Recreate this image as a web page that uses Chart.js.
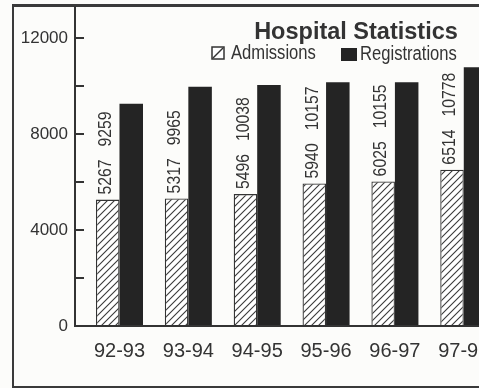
<!DOCTYPE html>
<html>
<head>
<meta charset="utf-8">
<script src="https://cdn.jsdelivr.net/npm/chart.js@4.4.0/dist/chart.umd.min.js"></script>
<style>
  html, body { margin: 0; padding: 0; background: #fcfcfa; overflow: hidden; width: 479px; height: 388px; }
  #frame { position: absolute; left: 12px; top: 4px; width: 620px; height: 384px; box-sizing: border-box;
           border: 2px solid #3a3a3a; border-top-width: 3px; }
  #wrap { position: absolute; left: 0; top: 0; width: 560px; height: 388px; }
</style>
</head>
<body>
<div id="frame"></div>
<div id="wrap"><canvas id="c" width="560" height="388"></canvas></div>
<script>
// Hospital statistics, yearly figures
const categories = ['92-93', '93-94', '94-95', '95-96', '96-97', '97-98'];
const admissions = [5267, 5317, 5496, 5940, 6025, 6514];
const registrations = [9259, 9965, 10038, 10157, 10155, 10778];
const yTicks = [0, 2000, 4000, 6000, 8000, 10000, 12000];
const yTickLabels = [0, 4000, 8000, 12000];

const INK = '#333333';
const BAR_DARK = '#242424';
const FONT = '"Liberation Sans", Arial, sans-serif';
const SQUEEZE = 0.83; // narrow lettering for labels and key

// diagonal hatching for the admissions bars
function makeHatch() {
  const s = 7;
  const p = document.createElement('canvas');
  p.width = s; p.height = s;
  const g = p.getContext('2d');
  g.fillStyle = '#ffffff';
  g.fillRect(0, 0, s, s);
  g.strokeStyle = '#3a3a3a';
  g.lineWidth = 1.1;
  g.beginPath();
  g.moveTo(-1, s + 1); g.lineTo(s + 1, -1);
  g.moveTo(-2, 2); g.lineTo(2, -2);
  g.moveTo(s - 2, s + 2); g.lineTo(s + 2, s - 2);
  g.stroke();
  return g.createPattern(p, 'repeat');
}
const hatch = makeHatch();

// writes narrow text; upright=false turns it to read bottom-to-top
function narrowText(ctx, text, x, y, upright) {
  ctx.save();
  ctx.translate(x, y);
  if (!upright) ctx.rotate(-Math.PI / 2);
  ctx.scale(SQUEEZE, 1);
  ctx.fillText(text, 0, 0);
  const w = ctx.measureText(text).width * SQUEEZE;
  ctx.restore();
  return w;
}

// value labels, stacked upward above each admissions bar
const valueLabels = {
  id: 'valueLabels',
  afterDatasetsDraw(chart) {
    const ctx = chart.ctx;
    const sets = chart.data.datasets;
    ctx.save();
    ctx.font = '19px ' + FONT;
    ctx.fillStyle = INK;
    ctx.textAlign = 'left';
    ctx.textBaseline = 'middle';
    chart.getDatasetMeta(0).data.forEach((bar, i) => {
      const x = bar.x - 2;
      let y = bar.y - 5;
      const len = narrowText(ctx, String(sets[0].data[i].y), x, y, false);
      y -= len + 13;
      narrowText(ctx, String(sets[1].data[i].y), x, y, false);
    });
    ctx.restore();
  }
};

// heading and key drawn inside the plot
const headingAndKey = {
  id: 'headingAndKey',
  afterDraw(chart) {
    const ctx = chart.ctx;
    const ds = chart.data.datasets;
    ctx.save();
    ctx.fillStyle = INK;
    ctx.font = 'bold 23.5px ' + FONT;
    ctx.textAlign = 'center';
    ctx.textBaseline = 'alphabetic';
    ctx.fillText('Hospital Statistics', 356, 39);

    ctx.font = '20px ' + FONT;
    ctx.textAlign = 'left';
    ctx.textBaseline = 'middle';
    // hatched key box
    ctx.fillStyle = '#ffffff';
    ctx.fillRect(212, 47, 12, 12);
    ctx.strokeStyle = INK;
    ctx.lineWidth = 1.5;
    ctx.strokeRect(212, 47, 12, 12);
    ctx.beginPath();
    ctx.moveTo(213, 58); ctx.lineTo(223, 48);
    ctx.stroke();
    ctx.fillStyle = INK;
    narrowText(ctx, ds[0].label, 231, 53, true);
    // solid key box
    ctx.fillStyle = BAR_DARK;
    ctx.fillRect(341, 48, 16, 13);
    ctx.fillStyle = INK;
    narrowText(ctx, ds[1].label, 360, 54, true);
    ctx.restore();
  }
};

new Chart(document.getElementById('c'), {
  type: 'bar',
  data: {
    datasets: [
      {
        label: 'Admissions',
        data: admissions.map((v, i) => ({ x: i, y: v })),
        backgroundColor: hatch,
        borderColor: INK,
        borderWidth: 1.3
      },
      {
        label: 'Registrations',
        data: registrations.map((v, i) => ({ x: i, y: v })),
        backgroundColor: BAR_DARK,
        borderColor: BAR_DARK,
        borderWidth: 0
      }
    ]
  },
  options: {
    responsive: false,
    animation: false,
    layout: { padding: { top: 7, right: 20, left: 0, bottom: 0 } },
    categoryPercentage: 0.683,
    barPercentage: 1.0,
    plugins: { legend: { display: false }, title: { display: false }, tooltip: { enabled: false } },
    scales: {
      x: {
        type: 'linear',
        offset: false,
        min: -0.646,
        max: 6.107,
        afterBuildTicks: (s) => { s.ticks = categories.map((c, i) => ({ value: i })); },
        afterFit: (s) => { s.height = 62; s.paddingLeft = 0; s.paddingRight = 0; },
        ticks: {
          callback: (v) => categories[v] ?? '',
          font: { family: FONT, size: 20 },
          color: INK,
          padding: 13,
          maxRotation: 0,
          autoSkip: false
        },
        grid: { display: true, offset: false, drawOnChartArea: false, drawTicks: false },
        border: { color: INK, width: 2 }
      },
      y: {
        min: 0,
        max: 13290,
        afterBuildTicks: (s) => { s.ticks = yTicks.map((v) => ({ value: v })); },
        afterFit: (s) => { s.width = 75; s.paddingTop = 0; s.paddingBottom = 0; },
        ticks: {
          callback: (v) => yTickLabels.includes(v) ? String(v) : '',
          font: { family: FONT, size: 17 },
          color: INK,
          padding: 16,
          autoSkip: false
        },
        grid: { drawOnChartArea: false, tickLength: -9, color: INK, lineWidth: 2 },
        border: { color: INK, width: 2 }
      }
    }
  },
  plugins: [valueLabels, headingAndKey]
});
</script>
</body>
</html>
